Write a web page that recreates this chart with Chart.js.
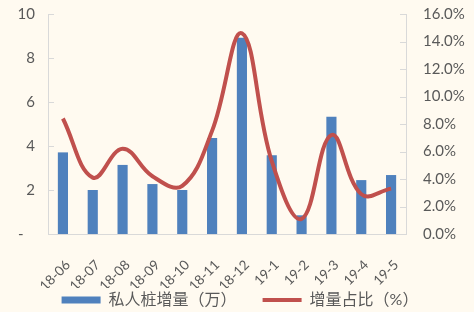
<!DOCTYPE html>
<html>
<head>
<meta charset="utf-8">
<script src="https://cdn.jsdelivr.net/npm/chart.js@4"></script>
<style>
    html, body { margin: 0; padding: 0; background: #FFFAF0; }
    #wrap { width: 474px; height: 312px; position: relative; }
</style>
</head>
<body>
<div id="wrap"><canvas id="chart"></canvas></div>
<script>
const months = ['18-06', '18-07', '18-08', '18-09', '18-10', '18-11', '18-12', '19-1', '19-2', '19-3', '19-4', '19-5'];
const privatePiles = [3.71, 2.0, 3.14, 2.27, 2.0, 4.36, 8.92, 3.58, 0.85, 5.33, 2.45, 2.68];
const shareRatio = [8.4, 4.1, 6.2, 4.2, 3.5, 7.5, 14.6, 5.3, 1.1, 7.2, 2.9, 3.3];
const leftTicks = [0, 2, 4, 6, 8, 10];
const rightTicks = [0, 2, 4, 6, 8, 10, 12, 14, 16];

const textColor = '#595959';
const axisColor = '#D9D9D9';
const fontFamily = 'Lato, "Noto Sans CJK SC", sans-serif';

// petits traits de graduation vers l'intérieur, comme dans Excel
const innerTicks = {
    id: 'innerTicks',
    afterDraw(chart) {
        const { ctx, chartArea } = chart;
        const y = chart.scales.y;
        const y1 = chart.scales.y1;
        ctx.save();
        ctx.strokeStyle = axisColor;
        ctx.lineWidth = 1;
        ctx.beginPath();
        y.ticks.forEach(t => {
            const py = Math.round(y.getPixelForValue(t.value)) + 0.5;
            ctx.moveTo(chartArea.left, py);
            ctx.lineTo(chartArea.left + 6, py);
        });
        y1.ticks.forEach(t => {
            const py = Math.round(y1.getPixelForValue(t.value)) + 0.5;
            ctx.moveTo(chartArea.right, py);
            ctx.lineTo(chartArea.right - 6, py);
        });
        ctx.stroke();
        ctx.restore();
    },
};

new Chart(document.getElementById('chart'), {
    data: {
        labels: months,
        datasets: [
            {
                type: 'line',
                label: '增量占比（%）',
                data: shareRatio,
                yAxisID: 'y1',
                borderColor: '#C0504D',
                backgroundColor: '#C0504D',
                borderWidth: 4,
                pointRadius: 0,
                tension: 0.4,
                pointStyle: 'line',
                order: 1,
            },
            {
                type: 'bar',
                // espace final : écart plus large entre les deux entrées de légende
                label: '私人桩增量（万）\u2003\u2002\u2009',
                data: privatePiles,
                yAxisID: 'y',
                backgroundColor: '#4F81BD',
                categoryPercentage: 1,
                barPercentage: 0.34,
                pointStyle: 'rect',
                order: 2,
            },
        ],
    },
    options: {
        responsive: true,
        maintainAspectRatio: false,
        animation: false,
        layout: { padding: { top: 14, left: 6, right: 0, bottom: -6 } },
        plugins: {
            tooltip: { enabled: false },
            legend: {
                position: 'bottom',
                reverse: true,
                labels: {
                    usePointStyle: true,
                    pointStyleWidth: 39,
                    boxHeight: 7,
                    padding: 4,
                    color: textColor,
                    font: { family: fontFamily, size: 16 },
                },
            },
        },
        scales: {
            x: {
                grid: { display: false },
                border: { display: true, color: axisColor },
                ticks: {
                    color: textColor,
                    font: { family: fontFamily, size: 13.5 },
                    maxRotation: 45,
                    minRotation: 45,
                    padding: 15,
                    labelOffset: 5,
                },
                afterFit: s => { s.height = 54; },
            },
            y: {
                position: 'left',
                min: 0,
                max: 10,
                afterBuildTicks: s => { s.ticks = leftTicks.map(v => ({ value: v })); },
                grid: { display: false, drawTicks: true, tickLength: 13 },
                border: { display: true, color: axisColor },
                ticks: {
                    color: textColor,
                    font: { family: fontFamily, size: 15 },
                    padding: 0,
                    callback: v => (v === 0 ? '-   ' : v),
                },
                afterFit: s => { s.width = 42; },
            },
            y1: {
                position: 'right',
                min: 0,
                max: 16,
                afterBuildTicks: s => { s.ticks = rightTicks.map(v => ({ value: v })); },
                grid: { display: false, drawTicks: true, tickLength: 17 },
                border: { display: true, color: axisColor },
                ticks: {
                    color: textColor,
                    font: { family: fontFamily, size: 15 },
                    padding: 0,
                    callback: v => v.toFixed(1) + '%',
                },
                afterFit: s => { s.width = 68; },
            },
        },
    },
    plugins: [innerTicks],
});
</script>
</body>
</html>
